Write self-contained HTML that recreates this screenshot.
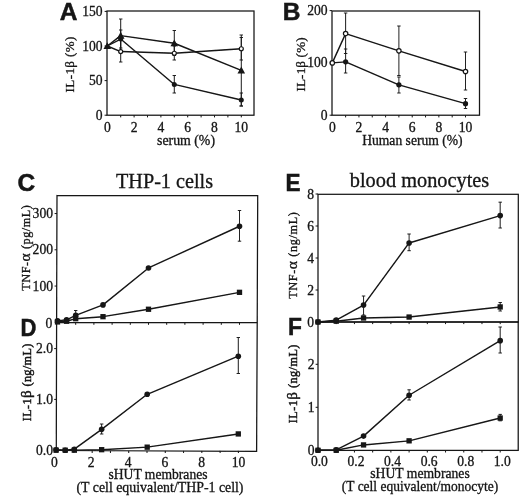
<!DOCTYPE html>
<html><head><meta charset="utf-8"><title>Figure</title>
<style>html,body{margin:0;padding:0;background:#fff}svg{display:block}</style></head>
<body>
<svg width="520" height="497" viewBox="0 0 520 497">
<rect width="520" height="497" fill="#fff"/>
<defs><filter id="soft" x="0" y="0" width="520" height="497" filterUnits="userSpaceOnUse"><feGaussianBlur stdDeviation="0.38"/></filter></defs>
<g filter="url(#soft)">
<rect x="107" y="11" width="147" height="104.2" fill="none" stroke="#141414" stroke-width="1.25"/>
<line x1="120.70" y1="115.20" x2="120.70" y2="117.40" stroke="#141414" stroke-width="1"/>
<line x1="134.10" y1="115.20" x2="134.10" y2="117.40" stroke="#141414" stroke-width="1"/>
<line x1="147.50" y1="115.20" x2="147.50" y2="117.40" stroke="#141414" stroke-width="1"/>
<line x1="160.90" y1="115.20" x2="160.90" y2="117.40" stroke="#141414" stroke-width="1"/>
<line x1="174.30" y1="115.20" x2="174.30" y2="117.40" stroke="#141414" stroke-width="1"/>
<line x1="187.70" y1="115.20" x2="187.70" y2="117.40" stroke="#141414" stroke-width="1"/>
<line x1="201.10" y1="115.20" x2="201.10" y2="117.40" stroke="#141414" stroke-width="1"/>
<line x1="214.50" y1="115.20" x2="214.50" y2="117.40" stroke="#141414" stroke-width="1"/>
<line x1="227.90" y1="115.20" x2="227.90" y2="117.40" stroke="#141414" stroke-width="1"/>
<line x1="241.30" y1="115.20" x2="241.30" y2="117.40" stroke="#141414" stroke-width="1"/>
<line x1="104.60" y1="115.20" x2="107.00" y2="115.20" stroke="#141414" stroke-width="1"/>
<line x1="104.60" y1="80.60" x2="107.00" y2="80.60" stroke="#141414" stroke-width="1"/>
<line x1="104.60" y1="46.00" x2="107.00" y2="46.00" stroke="#141414" stroke-width="1"/>
<line x1="104.60" y1="11.40" x2="107.00" y2="11.40" stroke="#141414" stroke-width="1"/>
<text x="107.30" y="131.60" font-family='"Liberation Serif", serif' font-size="13.6" font-weight="normal" text-anchor="middle" fill="#141414" stroke="#141414" stroke-width="0.3">0</text>
<text x="134.10" y="131.60" font-family='"Liberation Serif", serif' font-size="13.6" font-weight="normal" text-anchor="middle" fill="#141414" stroke="#141414" stroke-width="0.3">2</text>
<text x="160.90" y="131.60" font-family='"Liberation Serif", serif' font-size="13.6" font-weight="normal" text-anchor="middle" fill="#141414" stroke="#141414" stroke-width="0.3">4</text>
<text x="187.70" y="131.60" font-family='"Liberation Serif", serif' font-size="13.6" font-weight="normal" text-anchor="middle" fill="#141414" stroke="#141414" stroke-width="0.3">6</text>
<text x="214.50" y="131.60" font-family='"Liberation Serif", serif' font-size="13.6" font-weight="normal" text-anchor="middle" fill="#141414" stroke="#141414" stroke-width="0.3">8</text>
<text x="241.30" y="131.60" font-family='"Liberation Serif", serif' font-size="13.6" font-weight="normal" text-anchor="middle" fill="#141414" stroke="#141414" stroke-width="0.3">10</text>
<text x="102.60" y="119.80" font-family='"Liberation Serif", serif' font-size="13.6" font-weight="normal" text-anchor="end" fill="#141414" stroke="#141414" stroke-width="0.3">0</text>
<text x="102.60" y="85.20" font-family='"Liberation Serif", serif' font-size="13.6" font-weight="normal" text-anchor="end" fill="#141414" stroke="#141414" stroke-width="0.3">50</text>
<text x="102.60" y="50.60" font-family='"Liberation Serif", serif' font-size="13.6" font-weight="normal" text-anchor="end" fill="#141414" stroke="#141414" stroke-width="0.3">100</text>
<text x="102.60" y="16.00" font-family='"Liberation Serif", serif' font-size="13.6" font-weight="normal" text-anchor="end" fill="#141414" stroke="#141414" stroke-width="0.3">150</text>
<text x="186.00" y="144.50" font-family='"Liberation Serif", serif' font-size="13.6" font-weight="normal" text-anchor="middle" fill="#141414" textLength="58" lengthAdjust="spacingAndGlyphs" stroke="#141414" stroke-width="0.3">serum (%)</text>
<text x="74.20" y="64.50" font-family='"Liberation Serif", serif' font-size="13.1" font-weight="normal" text-anchor="middle" fill="#141414" transform="rotate(-90 74.20 64.50)" textLength="55.8" lengthAdjust="spacing" stroke="#141414" stroke-width="0.3">IL-1β (%)</text>
<text x="68.50" y="20.00" font-family='"Liberation Sans", sans-serif' font-size="24.5" font-weight="bold" text-anchor="middle" fill="#141414" stroke="#141414" stroke-width="0.5">A</text>
<line x1="120.70" y1="19.00" x2="120.70" y2="52.00" stroke="#141414" stroke-width="0.95"/>
<line x1="119.00" y1="19.00" x2="122.40" y2="19.00" stroke="#141414" stroke-width="0.95"/>
<line x1="119.00" y1="52.00" x2="122.40" y2="52.00" stroke="#141414" stroke-width="0.95"/>
<line x1="120.70" y1="40.00" x2="120.70" y2="62.00" stroke="#141414" stroke-width="0.95"/>
<line x1="119.00" y1="40.00" x2="122.40" y2="40.00" stroke="#141414" stroke-width="0.95"/>
<line x1="119.00" y1="62.00" x2="122.40" y2="62.00" stroke="#141414" stroke-width="0.95"/>
<line x1="120.70" y1="30.00" x2="120.70" y2="48.00" stroke="#141414" stroke-width="0.95"/>
<line x1="119.00" y1="30.00" x2="122.40" y2="30.00" stroke="#141414" stroke-width="0.95"/>
<line x1="119.00" y1="48.00" x2="122.40" y2="48.00" stroke="#141414" stroke-width="0.95"/>
<line x1="174.30" y1="30.50" x2="174.30" y2="55.50" stroke="#141414" stroke-width="0.95"/>
<line x1="172.60" y1="30.50" x2="176.00" y2="30.50" stroke="#141414" stroke-width="0.95"/>
<line x1="172.60" y1="55.50" x2="176.00" y2="55.50" stroke="#141414" stroke-width="0.95"/>
<line x1="174.30" y1="46.00" x2="174.30" y2="60.00" stroke="#141414" stroke-width="0.95"/>
<line x1="172.60" y1="46.00" x2="176.00" y2="46.00" stroke="#141414" stroke-width="0.95"/>
<line x1="172.60" y1="60.00" x2="176.00" y2="60.00" stroke="#141414" stroke-width="0.95"/>
<line x1="174.30" y1="75.50" x2="174.30" y2="93.00" stroke="#141414" stroke-width="0.95"/>
<line x1="172.60" y1="75.50" x2="176.00" y2="75.50" stroke="#141414" stroke-width="0.95"/>
<line x1="172.60" y1="93.00" x2="176.00" y2="93.00" stroke="#141414" stroke-width="0.95"/>
<line x1="241.30" y1="35.00" x2="241.30" y2="106.00" stroke="#141414" stroke-width="0.95"/>
<line x1="239.60" y1="35.00" x2="243.00" y2="35.00" stroke="#141414" stroke-width="0.95"/>
<line x1="239.60" y1="106.00" x2="243.00" y2="106.00" stroke="#141414" stroke-width="0.95"/>
<line x1="241.30" y1="37.50" x2="241.30" y2="60.00" stroke="#141414" stroke-width="0.95"/>
<line x1="239.60" y1="37.50" x2="243.00" y2="37.50" stroke="#141414" stroke-width="0.95"/>
<line x1="239.60" y1="60.00" x2="243.00" y2="60.00" stroke="#141414" stroke-width="0.95"/>
<line x1="241.30" y1="93.00" x2="241.30" y2="106.00" stroke="#141414" stroke-width="0.95"/>
<line x1="239.60" y1="93.00" x2="243.00" y2="93.00" stroke="#141414" stroke-width="0.95"/>
<line x1="239.60" y1="106.00" x2="243.00" y2="106.00" stroke="#141414" stroke-width="0.95"/>
<polyline points="107.30,46.00 120.70,39.08 174.30,84.41 241.30,99.98" fill="none" stroke="#141414" stroke-width="1.4" stroke-linejoin="round"/>
<polyline points="107.30,46.00 120.70,51.54 174.30,53.27 241.30,48.77" fill="none" stroke="#141414" stroke-width="1.4" stroke-linejoin="round"/>
<polyline points="107.30,46.00 120.70,35.62 174.30,43.23 241.30,70.36" fill="none" stroke="#141414" stroke-width="1.4" stroke-linejoin="round"/>
<circle cx="120.70" cy="39.08" r="2.5" fill="#141414"/>
<circle cx="174.30" cy="84.41" r="2.5" fill="#141414"/>
<circle cx="241.30" cy="99.98" r="2.5" fill="#141414"/>
<circle cx="120.70" cy="51.54" r="2.0" fill="#fff" stroke="#141414" stroke-width="1.2"/>
<circle cx="174.30" cy="53.27" r="2.0" fill="#fff" stroke="#141414" stroke-width="1.2"/>
<circle cx="241.30" cy="48.77" r="2.0" fill="#fff" stroke="#141414" stroke-width="1.2"/>
<polygon points="107.30,42.20 103.50,49.04 111.10,49.04" fill="#141414"/>
<polygon points="120.70,31.82 116.90,38.66 124.50,38.66" fill="#141414"/>
<polygon points="174.30,39.43 170.50,46.27 178.10,46.27" fill="#141414"/>
<polygon points="241.30,66.56 237.50,73.40 245.10,73.40" fill="#141414"/>
<rect x="332" y="11" width="147.5" height="104.2" fill="none" stroke="#141414" stroke-width="1.25"/>
<line x1="345.62" y1="115.20" x2="345.62" y2="117.40" stroke="#141414" stroke-width="1"/>
<line x1="358.94" y1="115.20" x2="358.94" y2="117.40" stroke="#141414" stroke-width="1"/>
<line x1="372.26" y1="115.20" x2="372.26" y2="117.40" stroke="#141414" stroke-width="1"/>
<line x1="385.58" y1="115.20" x2="385.58" y2="117.40" stroke="#141414" stroke-width="1"/>
<line x1="398.90" y1="115.20" x2="398.90" y2="117.40" stroke="#141414" stroke-width="1"/>
<line x1="412.22" y1="115.20" x2="412.22" y2="117.40" stroke="#141414" stroke-width="1"/>
<line x1="425.54" y1="115.20" x2="425.54" y2="117.40" stroke="#141414" stroke-width="1"/>
<line x1="438.86" y1="115.20" x2="438.86" y2="117.40" stroke="#141414" stroke-width="1"/>
<line x1="452.18" y1="115.20" x2="452.18" y2="117.40" stroke="#141414" stroke-width="1"/>
<line x1="465.50" y1="115.20" x2="465.50" y2="117.40" stroke="#141414" stroke-width="1"/>
<line x1="329.60" y1="115.20" x2="332.00" y2="115.20" stroke="#141414" stroke-width="1"/>
<line x1="329.60" y1="62.90" x2="332.00" y2="62.90" stroke="#141414" stroke-width="1"/>
<line x1="329.60" y1="10.60" x2="332.00" y2="10.60" stroke="#141414" stroke-width="1"/>
<text x="332.30" y="131.60" font-family='"Liberation Serif", serif' font-size="13.6" font-weight="normal" text-anchor="middle" fill="#141414" stroke="#141414" stroke-width="0.3">0</text>
<text x="358.94" y="131.60" font-family='"Liberation Serif", serif' font-size="13.6" font-weight="normal" text-anchor="middle" fill="#141414" stroke="#141414" stroke-width="0.3">2</text>
<text x="385.58" y="131.60" font-family='"Liberation Serif", serif' font-size="13.6" font-weight="normal" text-anchor="middle" fill="#141414" stroke="#141414" stroke-width="0.3">4</text>
<text x="412.22" y="131.60" font-family='"Liberation Serif", serif' font-size="13.6" font-weight="normal" text-anchor="middle" fill="#141414" stroke="#141414" stroke-width="0.3">6</text>
<text x="438.86" y="131.60" font-family='"Liberation Serif", serif' font-size="13.6" font-weight="normal" text-anchor="middle" fill="#141414" stroke="#141414" stroke-width="0.3">8</text>
<text x="465.50" y="131.60" font-family='"Liberation Serif", serif' font-size="13.6" font-weight="normal" text-anchor="middle" fill="#141414" stroke="#141414" stroke-width="0.3">10</text>
<text x="327.60" y="119.80" font-family='"Liberation Serif", serif' font-size="13.6" font-weight="normal" text-anchor="end" fill="#141414" stroke="#141414" stroke-width="0.3">0</text>
<text x="327.60" y="15.20" font-family='"Liberation Serif", serif' font-size="13.6" font-weight="normal" text-anchor="end" fill="#141414" stroke="#141414" stroke-width="0.3">200</text>
<text x="327.60" y="66.60" font-family='"Liberation Serif", serif' font-size="13.6" font-weight="normal" text-anchor="end" fill="#141414" stroke="#141414" stroke-width="0.3">100</text>
<text x="412.40" y="144.60" font-family='"Liberation Serif", serif' font-size="13.6" font-weight="normal" text-anchor="middle" fill="#141414" textLength="100.4" lengthAdjust="spacingAndGlyphs" stroke="#141414" stroke-width="0.3">Human serum (%)</text>
<text x="304.70" y="64.50" font-family='"Liberation Serif", serif' font-size="13.1" font-weight="normal" text-anchor="middle" fill="#141414" transform="rotate(-90 304.70 64.50)" textLength="54.2" lengthAdjust="spacing" stroke="#141414" stroke-width="0.3">IL-1β (%)</text>
<text x="291.50" y="19.80" font-family='"Liberation Sans", sans-serif' font-size="24.5" font-weight="bold" text-anchor="middle" fill="#141414" stroke="#141414" stroke-width="0.5">B</text>
<line x1="345.62" y1="13.00" x2="345.62" y2="53.50" stroke="#141414" stroke-width="0.95"/>
<line x1="343.92" y1="13.00" x2="347.32" y2="13.00" stroke="#141414" stroke-width="0.95"/>
<line x1="343.92" y1="53.50" x2="347.32" y2="53.50" stroke="#141414" stroke-width="0.95"/>
<line x1="345.62" y1="49.00" x2="345.62" y2="73.00" stroke="#141414" stroke-width="0.95"/>
<line x1="343.92" y1="49.00" x2="347.32" y2="49.00" stroke="#141414" stroke-width="0.95"/>
<line x1="343.92" y1="73.00" x2="347.32" y2="73.00" stroke="#141414" stroke-width="0.95"/>
<line x1="398.90" y1="26.00" x2="398.90" y2="75.50" stroke="#141414" stroke-width="0.95"/>
<line x1="397.20" y1="26.00" x2="400.60" y2="26.00" stroke="#141414" stroke-width="0.95"/>
<line x1="397.20" y1="75.50" x2="400.60" y2="75.50" stroke="#141414" stroke-width="0.95"/>
<line x1="398.90" y1="77.00" x2="398.90" y2="93.00" stroke="#141414" stroke-width="0.95"/>
<line x1="397.20" y1="77.00" x2="400.60" y2="77.00" stroke="#141414" stroke-width="0.95"/>
<line x1="397.20" y1="93.00" x2="400.60" y2="93.00" stroke="#141414" stroke-width="0.95"/>
<line x1="465.50" y1="52.00" x2="465.50" y2="90.00" stroke="#141414" stroke-width="0.95"/>
<line x1="463.80" y1="52.00" x2="467.20" y2="52.00" stroke="#141414" stroke-width="0.95"/>
<line x1="463.80" y1="90.00" x2="467.20" y2="90.00" stroke="#141414" stroke-width="0.95"/>
<line x1="465.50" y1="98.50" x2="465.50" y2="108.50" stroke="#141414" stroke-width="0.95"/>
<line x1="463.80" y1="98.50" x2="467.20" y2="98.50" stroke="#141414" stroke-width="0.95"/>
<line x1="463.80" y1="108.50" x2="467.20" y2="108.50" stroke="#141414" stroke-width="0.95"/>
<polyline points="332.30,62.90 345.62,33.61 398.90,50.87 465.50,71.48" fill="none" stroke="#141414" stroke-width="1.4" stroke-linejoin="round"/>
<polyline points="332.30,62.90 345.62,61.85 398.90,84.87 465.50,103.69" fill="none" stroke="#141414" stroke-width="1.4" stroke-linejoin="round"/>
<circle cx="345.62" cy="61.85" r="2.6" fill="#141414"/>
<circle cx="398.90" cy="84.87" r="2.6" fill="#141414"/>
<circle cx="465.50" cy="103.69" r="2.6" fill="#141414"/>
<circle cx="332.30" cy="62.90" r="2.2" fill="#fff" stroke="#141414" stroke-width="1.2"/>
<circle cx="345.62" cy="33.61" r="2.2" fill="#fff" stroke="#141414" stroke-width="1.2"/>
<circle cx="398.90" cy="50.87" r="2.2" fill="#fff" stroke="#141414" stroke-width="1.2"/>
<circle cx="465.50" cy="71.48" r="2.2" fill="#fff" stroke="#141414" stroke-width="1.2"/>
<polygon points="57,195.5 257.7,195.6 257.2,322.7 256.6,451.3 56.3,450.5 56.6,322.7" fill="none" stroke="#141414" stroke-width="1.25"/>
<line x1="56.60" y1="322.70" x2="257.20" y2="322.70" stroke="#141414" stroke-width="1.25"/>
<line x1="75.70" y1="322.70" x2="75.70" y2="324.80" stroke="#141414" stroke-width="1"/>
<line x1="93.90" y1="322.70" x2="93.90" y2="324.80" stroke="#141414" stroke-width="1"/>
<line x1="112.10" y1="322.70" x2="112.10" y2="324.80" stroke="#141414" stroke-width="1"/>
<line x1="130.30" y1="322.70" x2="130.30" y2="324.80" stroke="#141414" stroke-width="1"/>
<line x1="148.50" y1="322.70" x2="148.50" y2="324.80" stroke="#141414" stroke-width="1"/>
<line x1="166.70" y1="322.70" x2="166.70" y2="324.80" stroke="#141414" stroke-width="1"/>
<line x1="184.90" y1="322.70" x2="184.90" y2="324.80" stroke="#141414" stroke-width="1"/>
<line x1="203.10" y1="322.70" x2="203.10" y2="324.80" stroke="#141414" stroke-width="1"/>
<line x1="221.30" y1="322.70" x2="221.30" y2="324.80" stroke="#141414" stroke-width="1"/>
<line x1="239.50" y1="322.70" x2="239.50" y2="324.80" stroke="#141414" stroke-width="1"/>
<line x1="73.88" y1="450.90" x2="73.88" y2="453.00" stroke="#141414" stroke-width="1"/>
<line x1="92.16" y1="450.90" x2="92.16" y2="453.00" stroke="#141414" stroke-width="1"/>
<line x1="110.44" y1="450.90" x2="110.44" y2="453.00" stroke="#141414" stroke-width="1"/>
<line x1="128.72" y1="450.90" x2="128.72" y2="453.00" stroke="#141414" stroke-width="1"/>
<line x1="147.00" y1="450.90" x2="147.00" y2="453.00" stroke="#141414" stroke-width="1"/>
<line x1="165.28" y1="450.90" x2="165.28" y2="453.00" stroke="#141414" stroke-width="1"/>
<line x1="183.56" y1="450.90" x2="183.56" y2="453.00" stroke="#141414" stroke-width="1"/>
<line x1="201.84" y1="450.90" x2="201.84" y2="453.00" stroke="#141414" stroke-width="1"/>
<line x1="220.12" y1="450.90" x2="220.12" y2="453.00" stroke="#141414" stroke-width="1"/>
<line x1="238.40" y1="450.90" x2="238.40" y2="453.00" stroke="#141414" stroke-width="1"/>
<line x1="54.60" y1="322.30" x2="57.00" y2="322.30" stroke="#141414" stroke-width="1"/>
<line x1="54.60" y1="286.05" x2="57.00" y2="286.05" stroke="#141414" stroke-width="1"/>
<line x1="54.60" y1="249.80" x2="57.00" y2="249.80" stroke="#141414" stroke-width="1"/>
<line x1="54.60" y1="213.55" x2="57.00" y2="213.55" stroke="#141414" stroke-width="1"/>
<line x1="54.20" y1="450.20" x2="56.60" y2="450.20" stroke="#141414" stroke-width="1"/>
<line x1="54.20" y1="399.40" x2="56.60" y2="399.40" stroke="#141414" stroke-width="1"/>
<line x1="54.20" y1="348.60" x2="56.60" y2="348.60" stroke="#141414" stroke-width="1"/>
<text x="53.00" y="290.65" font-family='"Liberation Serif", serif' font-size="13.6" font-weight="normal" text-anchor="end" fill="#141414" stroke="#141414" stroke-width="0.3">100</text>
<text x="53.00" y="254.40" font-family='"Liberation Serif", serif' font-size="13.6" font-weight="normal" text-anchor="end" fill="#141414" stroke="#141414" stroke-width="0.3">200</text>
<text x="53.00" y="218.15" font-family='"Liberation Serif", serif' font-size="13.6" font-weight="normal" text-anchor="end" fill="#141414" stroke="#141414" stroke-width="0.3">300</text>
<text x="52.30" y="328.10" font-family='"Liberation Serif", serif' font-size="13.6" font-weight="normal" text-anchor="end" fill="#141414" stroke="#141414" stroke-width="0.3">0</text>
<text x="53.00" y="454.80" font-family='"Liberation Serif", serif' font-size="13.6" font-weight="normal" text-anchor="end" fill="#141414" stroke="#141414" stroke-width="0.3">0.0</text>
<text x="53.00" y="404.00" font-family='"Liberation Serif", serif' font-size="13.6" font-weight="normal" text-anchor="end" fill="#141414" stroke="#141414" stroke-width="0.3">1.0</text>
<text x="53.00" y="353.20" font-family='"Liberation Serif", serif' font-size="13.6" font-weight="normal" text-anchor="end" fill="#141414" stroke="#141414" stroke-width="0.3">2.0</text>
<text x="54.40" y="466.50" font-family='"Liberation Serif", serif' font-size="13.6" font-weight="normal" text-anchor="middle" fill="#141414" stroke="#141414" stroke-width="0.3">0</text>
<text x="91.24" y="466.50" font-family='"Liberation Serif", serif' font-size="13.6" font-weight="normal" text-anchor="middle" fill="#141414" stroke="#141414" stroke-width="0.3">2</text>
<text x="128.08" y="466.50" font-family='"Liberation Serif", serif' font-size="13.6" font-weight="normal" text-anchor="middle" fill="#141414" stroke="#141414" stroke-width="0.3">4</text>
<text x="164.92" y="466.50" font-family='"Liberation Serif", serif' font-size="13.6" font-weight="normal" text-anchor="middle" fill="#141414" stroke="#141414" stroke-width="0.3">6</text>
<text x="201.76" y="466.50" font-family='"Liberation Serif", serif' font-size="13.6" font-weight="normal" text-anchor="middle" fill="#141414" stroke="#141414" stroke-width="0.3">8</text>
<text x="238.60" y="466.50" font-family='"Liberation Serif", serif' font-size="13.6" font-weight="normal" text-anchor="middle" fill="#141414" stroke="#141414" stroke-width="0.3">10</text>
<text x="164.50" y="188.30" font-family='"Liberation Serif", serif' font-size="20" font-weight="normal" text-anchor="middle" fill="#141414" textLength="97" lengthAdjust="spacingAndGlyphs" stroke="#141414" stroke-width="0.3">THP-1 cells</text>
<text x="158.00" y="478.80" font-family='"Liberation Serif", serif' font-size="13.7" font-weight="normal" text-anchor="middle" fill="#141414" textLength="99" lengthAdjust="spacingAndGlyphs" stroke="#141414" stroke-width="0.3">sHUT membranes</text>
<text x="160.00" y="491.80" font-family='"Liberation Serif", serif' font-size="13.7" font-weight="normal" text-anchor="middle" fill="#141414" textLength="167" lengthAdjust="spacingAndGlyphs" stroke="#141414" stroke-width="0.3">(T cell equivalent/THP-1 cell)</text>
<text x="30.10" y="247.90" font-family='"Liberation Serif", serif' font-size="12.2" font-weight="normal" text-anchor="middle" fill="#141414" transform="rotate(-90 30.10 247.90)" textLength="85.7" lengthAdjust="spacing" stroke="#141414" stroke-width="0.3">TNF-<tspan font-size="15.5">α</tspan> (pg/mL)</text>
<text x="30.90" y="382.40" font-family='"Liberation Serif", serif' font-size="12.2" font-weight="normal" text-anchor="middle" fill="#141414" transform="rotate(-90 30.90 382.40)" textLength="77.6" lengthAdjust="spacing" stroke="#141414" stroke-width="0.45">IL-1<tspan font-size="15">β</tspan> (ng/mL)</text>
<text x="26.30" y="190.60" font-family='"Liberation Sans", sans-serif' font-size="24.5" font-weight="bold" text-anchor="middle" fill="#141414" stroke="#141414" stroke-width="0.5">C</text>
<text transform="translate(28.50 336.00) scale(0.9 1)" font-family='"Liberation Sans", sans-serif' font-size="24.5" font-weight="bold" text-anchor="middle" fill="#141414" stroke="#141414" stroke-width="0.5">D</text>
<line x1="75.70" y1="310.50" x2="75.70" y2="320.00" stroke="#141414" stroke-width="0.95"/>
<line x1="74.00" y1="310.50" x2="77.40" y2="310.50" stroke="#141414" stroke-width="0.95"/>
<line x1="74.00" y1="320.00" x2="77.40" y2="320.00" stroke="#141414" stroke-width="0.95"/>
<line x1="239.50" y1="210.50" x2="239.50" y2="241.20" stroke="#141414" stroke-width="0.95"/>
<line x1="237.80" y1="210.50" x2="241.20" y2="210.50" stroke="#141414" stroke-width="0.95"/>
<line x1="237.80" y1="241.20" x2="241.20" y2="241.20" stroke="#141414" stroke-width="0.95"/>
<polyline points="57.50,320.85 66.60,319.76 75.70,315.41 103.00,304.90 148.50,267.93 239.50,226.24" fill="none" stroke="#141414" stroke-width="1.4" stroke-linejoin="round"/>
<polyline points="57.50,321.94 66.60,321.21 75.70,318.68 103.00,316.68 148.50,309.25 239.50,292.32" fill="none" stroke="#141414" stroke-width="1.4" stroke-linejoin="round"/>
<circle cx="57.50" cy="320.85" r="2.8" fill="#141414"/>
<circle cx="66.60" cy="319.76" r="2.8" fill="#141414"/>
<circle cx="75.70" cy="315.41" r="2.8" fill="#141414"/>
<circle cx="103.00" cy="304.90" r="2.8" fill="#141414"/>
<circle cx="148.50" cy="267.93" r="2.8" fill="#141414"/>
<circle cx="239.50" cy="226.24" r="2.8" fill="#141414"/>
<rect x="54.85" y="319.29" width="5.3" height="5.3" fill="#141414"/>
<rect x="63.95" y="318.56" width="5.3" height="5.3" fill="#141414"/>
<rect x="73.05" y="316.03" width="5.3" height="5.3" fill="#141414"/>
<rect x="100.35" y="314.03" width="5.3" height="5.3" fill="#141414"/>
<rect x="145.85" y="306.60" width="5.3" height="5.3" fill="#141414"/>
<rect x="236.85" y="289.67" width="5.3" height="5.3" fill="#141414"/>
<line x1="101.65" y1="424.00" x2="101.65" y2="434.00" stroke="#141414" stroke-width="0.95"/>
<line x1="99.95" y1="424.00" x2="103.35" y2="424.00" stroke="#141414" stroke-width="0.95"/>
<line x1="99.95" y1="434.00" x2="103.35" y2="434.00" stroke="#141414" stroke-width="0.95"/>
<line x1="238.30" y1="337.50" x2="238.30" y2="373.50" stroke="#141414" stroke-width="0.95"/>
<line x1="236.60" y1="337.50" x2="240.00" y2="337.50" stroke="#141414" stroke-width="0.95"/>
<line x1="236.60" y1="373.50" x2="240.00" y2="373.50" stroke="#141414" stroke-width="0.95"/>
<polyline points="56.10,449.69 65.21,450.20 74.32,449.18 101.65,429.37 147.20,394.32 238.30,356.22" fill="none" stroke="#141414" stroke-width="1.4" stroke-linejoin="round"/>
<polyline points="56.10,450.20 65.21,450.20 74.32,450.20 101.65,449.69 147.20,447.15 238.30,433.94" fill="none" stroke="#141414" stroke-width="1.4" stroke-linejoin="round"/>
<circle cx="56.10" cy="449.69" r="2.8" fill="#141414"/>
<circle cx="65.21" cy="450.20" r="2.8" fill="#141414"/>
<circle cx="74.32" cy="449.18" r="2.8" fill="#141414"/>
<circle cx="101.65" cy="429.37" r="2.8" fill="#141414"/>
<circle cx="147.20" cy="394.32" r="2.8" fill="#141414"/>
<circle cx="238.30" cy="356.22" r="2.8" fill="#141414"/>
<rect x="53.45" y="447.55" width="5.3" height="5.3" fill="#141414"/>
<rect x="62.56" y="447.55" width="5.3" height="5.3" fill="#141414"/>
<rect x="71.67" y="447.55" width="5.3" height="5.3" fill="#141414"/>
<rect x="99.00" y="447.04" width="5.3" height="5.3" fill="#141414"/>
<rect x="144.55" y="444.50" width="5.3" height="5.3" fill="#141414"/>
<rect x="235.65" y="431.29" width="5.3" height="5.3" fill="#141414"/>
<rect x="318" y="194.3" width="200.29999999999995" height="127.69999999999999" fill="none" stroke="#141414" stroke-width="1.25"/>
<rect x="318" y="322" width="200.20000000000005" height="128.39999999999998" fill="none" stroke="#141414" stroke-width="1.25"/>
<line x1="336.22" y1="322.00" x2="336.22" y2="324.10" stroke="#141414" stroke-width="1"/>
<line x1="354.44" y1="322.00" x2="354.44" y2="324.10" stroke="#141414" stroke-width="1"/>
<line x1="372.66" y1="322.00" x2="372.66" y2="324.10" stroke="#141414" stroke-width="1"/>
<line x1="390.88" y1="322.00" x2="390.88" y2="324.10" stroke="#141414" stroke-width="1"/>
<line x1="409.10" y1="322.00" x2="409.10" y2="324.10" stroke="#141414" stroke-width="1"/>
<line x1="427.32" y1="322.00" x2="427.32" y2="324.10" stroke="#141414" stroke-width="1"/>
<line x1="445.54" y1="322.00" x2="445.54" y2="324.10" stroke="#141414" stroke-width="1"/>
<line x1="463.76" y1="322.00" x2="463.76" y2="324.10" stroke="#141414" stroke-width="1"/>
<line x1="481.98" y1="322.00" x2="481.98" y2="324.10" stroke="#141414" stroke-width="1"/>
<line x1="500.20" y1="322.00" x2="500.20" y2="324.10" stroke="#141414" stroke-width="1"/>
<line x1="336.22" y1="450.40" x2="336.22" y2="452.50" stroke="#141414" stroke-width="1"/>
<line x1="354.44" y1="450.40" x2="354.44" y2="452.50" stroke="#141414" stroke-width="1"/>
<line x1="372.66" y1="450.40" x2="372.66" y2="452.50" stroke="#141414" stroke-width="1"/>
<line x1="390.88" y1="450.40" x2="390.88" y2="452.50" stroke="#141414" stroke-width="1"/>
<line x1="409.10" y1="450.40" x2="409.10" y2="452.50" stroke="#141414" stroke-width="1"/>
<line x1="427.32" y1="450.40" x2="427.32" y2="452.50" stroke="#141414" stroke-width="1"/>
<line x1="445.54" y1="450.40" x2="445.54" y2="452.50" stroke="#141414" stroke-width="1"/>
<line x1="463.76" y1="450.40" x2="463.76" y2="452.50" stroke="#141414" stroke-width="1"/>
<line x1="481.98" y1="450.40" x2="481.98" y2="452.50" stroke="#141414" stroke-width="1"/>
<line x1="500.20" y1="450.40" x2="500.20" y2="452.50" stroke="#141414" stroke-width="1"/>
<line x1="315.60" y1="322.00" x2="318.00" y2="322.00" stroke="#141414" stroke-width="1"/>
<line x1="315.60" y1="290.00" x2="318.00" y2="290.00" stroke="#141414" stroke-width="1"/>
<line x1="315.60" y1="258.00" x2="318.00" y2="258.00" stroke="#141414" stroke-width="1"/>
<line x1="315.60" y1="226.00" x2="318.00" y2="226.00" stroke="#141414" stroke-width="1"/>
<line x1="315.60" y1="194.00" x2="318.00" y2="194.00" stroke="#141414" stroke-width="1"/>
<line x1="315.60" y1="450.30" x2="318.00" y2="450.30" stroke="#141414" stroke-width="1"/>
<line x1="315.60" y1="407.30" x2="318.00" y2="407.30" stroke="#141414" stroke-width="1"/>
<line x1="315.60" y1="364.30" x2="318.00" y2="364.30" stroke="#141414" stroke-width="1"/>
<text x="314.00" y="326.60" font-family='"Liberation Serif", serif' font-size="13.6" font-weight="normal" text-anchor="end" fill="#141414" stroke="#141414" stroke-width="0.3">0</text>
<text x="314.00" y="294.60" font-family='"Liberation Serif", serif' font-size="13.6" font-weight="normal" text-anchor="end" fill="#141414" stroke="#141414" stroke-width="0.3">2</text>
<text x="314.00" y="262.60" font-family='"Liberation Serif", serif' font-size="13.6" font-weight="normal" text-anchor="end" fill="#141414" stroke="#141414" stroke-width="0.3">4</text>
<text x="314.00" y="230.60" font-family='"Liberation Serif", serif' font-size="13.6" font-weight="normal" text-anchor="end" fill="#141414" stroke="#141414" stroke-width="0.3">6</text>
<text x="314.00" y="198.60" font-family='"Liberation Serif", serif' font-size="13.6" font-weight="normal" text-anchor="end" fill="#141414" stroke="#141414" stroke-width="0.3">8</text>
<text x="314.50" y="454.90" font-family='"Liberation Serif", serif' font-size="13.6" font-weight="normal" text-anchor="end" fill="#141414" stroke="#141414" stroke-width="0.3">0</text>
<text x="314.50" y="411.90" font-family='"Liberation Serif", serif' font-size="13.6" font-weight="normal" text-anchor="end" fill="#141414" stroke="#141414" stroke-width="0.3">1</text>
<text x="314.50" y="368.90" font-family='"Liberation Serif", serif' font-size="13.6" font-weight="normal" text-anchor="end" fill="#141414" stroke="#141414" stroke-width="0.3">2</text>
<text x="319.40" y="465.80" font-family='"Liberation Serif", serif' font-size="13.6" font-weight="normal" text-anchor="middle" fill="#141414" stroke="#141414" stroke-width="0.3">0.0</text>
<text x="355.98" y="465.80" font-family='"Liberation Serif", serif' font-size="13.6" font-weight="normal" text-anchor="middle" fill="#141414" stroke="#141414" stroke-width="0.3">0.2</text>
<text x="392.56" y="465.80" font-family='"Liberation Serif", serif' font-size="13.6" font-weight="normal" text-anchor="middle" fill="#141414" stroke="#141414" stroke-width="0.3">0.4</text>
<text x="429.14" y="465.80" font-family='"Liberation Serif", serif' font-size="13.6" font-weight="normal" text-anchor="middle" fill="#141414" stroke="#141414" stroke-width="0.3">0.6</text>
<text x="465.72" y="465.80" font-family='"Liberation Serif", serif' font-size="13.6" font-weight="normal" text-anchor="middle" fill="#141414" stroke="#141414" stroke-width="0.3">0.8</text>
<text x="502.30" y="465.80" font-family='"Liberation Serif", serif' font-size="13.6" font-weight="normal" text-anchor="middle" fill="#141414" stroke="#141414" stroke-width="0.3">1.0</text>
<text x="419.50" y="187.30" font-family='"Liberation Serif", serif' font-size="20" font-weight="normal" text-anchor="middle" fill="#141414" textLength="139.5" lengthAdjust="spacingAndGlyphs" stroke="#141414" stroke-width="0.3">blood monocytes</text>
<text x="420.00" y="478.00" font-family='"Liberation Serif", serif' font-size="13.7" font-weight="normal" text-anchor="middle" fill="#141414" textLength="99.5" lengthAdjust="spacingAndGlyphs" stroke="#141414" stroke-width="0.3">sHUT membranes</text>
<text x="420.00" y="491.00" font-family='"Liberation Serif", serif' font-size="13.7" font-weight="normal" text-anchor="middle" fill="#141414" textLength="156.5" lengthAdjust="spacingAndGlyphs" stroke="#141414" stroke-width="0.3">(T cell equivalent/monocyte)</text>
<text x="297.40" y="255.50" font-family='"Liberation Serif", serif' font-size="12.2" font-weight="normal" text-anchor="middle" fill="#141414" transform="rotate(-90 297.40 255.50)" textLength="86.7" lengthAdjust="spacing" stroke="#141414" stroke-width="0.3">TNF-<tspan font-size="15.5">α</tspan> (ng/mL)</text>
<text x="296.60" y="383.90" font-family='"Liberation Serif", serif' font-size="12.2" font-weight="normal" text-anchor="middle" fill="#141414" transform="rotate(-90 296.60 383.90)" textLength="78.6" lengthAdjust="spacing" stroke="#141414" stroke-width="0.45">IL-1<tspan font-size="15">β</tspan> (ng/mL)</text>
<text transform="translate(293.00 191.00) scale(0.93 1)" font-family='"Liberation Sans", sans-serif' font-size="24.2" font-weight="bold" text-anchor="middle" fill="#141414" stroke="#141414" stroke-width="0.5">E</text>
<text transform="translate(295.00 334.60) scale(0.93 1)" font-family='"Liberation Sans", sans-serif' font-size="24.5" font-weight="bold" text-anchor="middle" fill="#141414" stroke="#141414" stroke-width="0.5">F</text>
<line x1="363.55" y1="296.00" x2="363.55" y2="315.00" stroke="#141414" stroke-width="0.95"/>
<line x1="361.85" y1="296.00" x2="365.25" y2="296.00" stroke="#141414" stroke-width="0.95"/>
<line x1="361.85" y1="315.00" x2="365.25" y2="315.00" stroke="#141414" stroke-width="0.95"/>
<line x1="409.10" y1="234.00" x2="409.10" y2="250.70" stroke="#141414" stroke-width="0.95"/>
<line x1="407.40" y1="234.00" x2="410.80" y2="234.00" stroke="#141414" stroke-width="0.95"/>
<line x1="407.40" y1="250.70" x2="410.80" y2="250.70" stroke="#141414" stroke-width="0.95"/>
<line x1="500.20" y1="202.20" x2="500.20" y2="228.00" stroke="#141414" stroke-width="0.95"/>
<line x1="498.50" y1="202.20" x2="501.90" y2="202.20" stroke="#141414" stroke-width="0.95"/>
<line x1="498.50" y1="228.00" x2="501.90" y2="228.00" stroke="#141414" stroke-width="0.95"/>
<line x1="500.20" y1="302.50" x2="500.20" y2="311.00" stroke="#141414" stroke-width="0.95"/>
<line x1="498.50" y1="302.50" x2="501.90" y2="302.50" stroke="#141414" stroke-width="0.95"/>
<line x1="498.50" y1="311.00" x2="501.90" y2="311.00" stroke="#141414" stroke-width="0.95"/>
<polyline points="318.00,322.00 336.22,320.08 363.55,305.04 409.10,242.96 500.20,215.60" fill="none" stroke="#141414" stroke-width="1.4" stroke-linejoin="round"/>
<polyline points="318.00,322.00 336.22,321.20 363.55,318.00 409.10,317.04 500.20,306.96" fill="none" stroke="#141414" stroke-width="1.4" stroke-linejoin="round"/>
<circle cx="318.00" cy="322.00" r="2.8" fill="#141414"/>
<circle cx="336.22" cy="320.08" r="2.8" fill="#141414"/>
<circle cx="363.55" cy="305.04" r="2.8" fill="#141414"/>
<circle cx="409.10" cy="242.96" r="2.8" fill="#141414"/>
<circle cx="500.20" cy="215.60" r="2.8" fill="#141414"/>
<rect x="315.35" y="319.35" width="5.3" height="5.3" fill="#141414"/>
<rect x="333.57" y="318.55" width="5.3" height="5.3" fill="#141414"/>
<rect x="360.90" y="315.35" width="5.3" height="5.3" fill="#141414"/>
<rect x="406.45" y="314.39" width="5.3" height="5.3" fill="#141414"/>
<rect x="497.55" y="304.31" width="5.3" height="5.3" fill="#141414"/>
<line x1="409.10" y1="389.80" x2="409.10" y2="400.00" stroke="#141414" stroke-width="0.95"/>
<line x1="407.40" y1="389.80" x2="410.80" y2="389.80" stroke="#141414" stroke-width="0.95"/>
<line x1="407.40" y1="400.00" x2="410.80" y2="400.00" stroke="#141414" stroke-width="0.95"/>
<line x1="500.20" y1="327.00" x2="500.20" y2="353.00" stroke="#141414" stroke-width="0.95"/>
<line x1="498.50" y1="327.00" x2="501.90" y2="327.00" stroke="#141414" stroke-width="0.95"/>
<line x1="498.50" y1="353.00" x2="501.90" y2="353.00" stroke="#141414" stroke-width="0.95"/>
<line x1="500.20" y1="414.40" x2="500.20" y2="420.80" stroke="#141414" stroke-width="0.95"/>
<line x1="498.50" y1="414.40" x2="501.90" y2="414.40" stroke="#141414" stroke-width="0.95"/>
<line x1="498.50" y1="420.80" x2="501.90" y2="420.80" stroke="#141414" stroke-width="0.95"/>
<polyline points="318.00,450.30 336.22,449.87 363.55,436.11 409.10,395.26 500.20,340.65" fill="none" stroke="#141414" stroke-width="1.4" stroke-linejoin="round"/>
<polyline points="318.00,450.30 336.22,450.30 363.55,444.93 409.10,440.84 500.20,418.05" fill="none" stroke="#141414" stroke-width="1.4" stroke-linejoin="round"/>
<circle cx="318.00" cy="450.30" r="2.8" fill="#141414"/>
<circle cx="336.22" cy="449.87" r="2.8" fill="#141414"/>
<circle cx="363.55" cy="436.11" r="2.8" fill="#141414"/>
<circle cx="409.10" cy="395.26" r="2.8" fill="#141414"/>
<circle cx="500.20" cy="340.65" r="2.8" fill="#141414"/>
<rect x="315.35" y="447.65" width="5.3" height="5.3" fill="#141414"/>
<rect x="333.57" y="447.65" width="5.3" height="5.3" fill="#141414"/>
<rect x="360.90" y="442.28" width="5.3" height="5.3" fill="#141414"/>
<rect x="406.45" y="438.19" width="5.3" height="5.3" fill="#141414"/>
<rect x="497.55" y="415.40" width="5.3" height="5.3" fill="#141414"/>
</g>
</svg>
</body></html>
